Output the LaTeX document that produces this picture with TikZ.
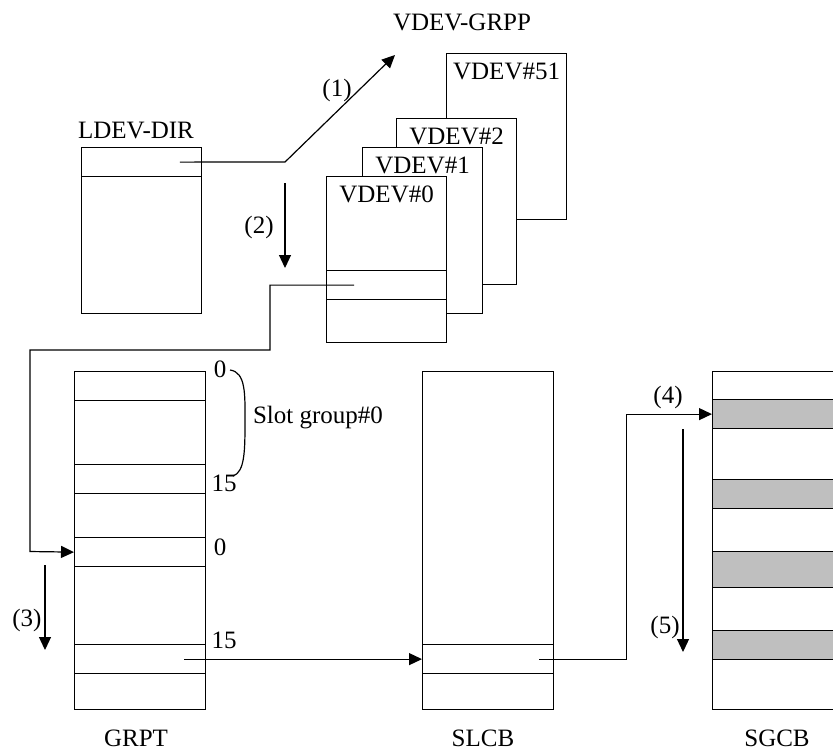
\documentclass[tikz,border=0pt]{standalone}
\usepackage{fontspec}
\setmainfont{Liberation Serif}
\usepackage{tikz}
\usetikzlibrary{arrows.meta, positioning, calc}

\begin{document}
\begin{tikzpicture}[
    x=0.5pt, y=-0.5pt,
    font=\fontsize{12.5}{15}\selectfont,
    line width=0.6pt,
    tbl/.style={rectangle, draw, fill=white, inner sep=0pt, anchor=north west, minimum width=65.5pt, minimum height=169pt},
    vdev/.style={tbl, minimum width=60pt, minimum height=83pt},
    slot/.style={rectangle, draw, inner sep=0pt, anchor=north west, minimum width=65.5pt, minimum height=14.5pt},
    busy/.style={slot, fill=gray!50},
    txt/.style={inner sep=0pt},
    ptr/.style={-{Triangle[length=6.5pt,width=6pt]}},
]
\clip (0,0) rectangle (833,752);

% LDEV-DIR
\node (ldevlbl) [txt] at (136,130) {LDEV-DIR};
\node (ldev) [vdev] at (80.7,147) {};
\node (ldevrow) [slot, minimum width=60pt] at (ldev.north west) {};
\coordinate (ldevptr) at ($(ldevrow.east)+(-22,0)$);

% VDEV-GRPP
\node (grpplbl) [txt] at (462,22) {VDEV-GRPP};
\node (vdev51) [vdev, label={[anchor=north, yshift=-1.5pt]north:VDEV\#51}] at (446,53) {};
\node (vdev2) [vdev, label={[anchor=north, yshift=-1.5pt]north:VDEV\#2}] at (396,118) {};
\node (vdev1) [vdev, label={[anchor=north, yshift=-1.5pt]north:VDEV\#1}] at (362,147) {};
\node (vdev0) [vdev, label={[anchor=north, yshift=-1.5pt]north:VDEV\#0}] at (326,176) {};
\node (vdevrow) [slot, minimum width=60pt] at (326,270) {};
\coordinate (vdevptr) at ($(vdevrow.west)+(28,0)$);

% GRPT
\node (grpt) [tbl] at (74,371) {};
\node (grptrow1) [slot] at (74,371) {};
\node (grptrow2) [slot] at (74,464) {};
\node (grptrow3) [slot] at (74,537) {};
\node (grptrow4) [slot] at (74,644) {};
\coordinate (grptptr) at ($(grptrow4.east)+(-22,0)$);
\node (idxa) [txt] at (220,369) {0};
\node (idxb) [txt] at (224,483) {15};
\node (idxc) [txt] at (220,547) {0};
\node (idxd) [txt] at (224,640) {15};
\node (grplbl) [txt] at (318,418) {Slot group\#0};
\node (grptlbl) [txt] at (136,738) {GRPT};

% SLCB
\node (slcb) [tbl] at (422,371) {};
\node (slcbrow) [slot] at (422,644) {};
\coordinate (slcbptr) at ($(slcbrow.east)+(-15,0)$);
\node (slcblbl) [txt] at (483,738) {SLCB};

% SGCB
\node (sgcb) [tbl] at (712,371) {};
\node (sgcbrow1) [busy] at (712,399) {};
\node (sgcbrow2) [busy] at (712,479) {};
\node (sgcbrow3) [busy, minimum height=18pt] at (712,551) {};
\node (sgcbrow4) [busy] at (712,630) {};
\node (sgcblbl) [txt] at (777,738) {SGCB};

% Step labels
\node (lbl1) [txt] at (337,90) {(1)};
\node (lbl2) [txt] at (259,227) {(2)};
\node (lbl3) [txt] at (27,620) {(3)};
\node (lbl4) [txt] at (668,397) {(4)};
\node (lbl5) [txt] at (665,627) {(5)};

% Arrows
\coordinate (grpptip) at (395,55);
\draw [ptr] (ldevptr) -- (285,162) -- (grpptip);
\coordinate (downAtop) at (285,183);
\coordinate (downAend) at (285,268);
\draw [ptr] (downAtop) -- (downAend);
\draw [ptr] (vdevptr) -| (270,350) -| (30,551.5) -- (grptrow3.west);
\coordinate (downBtop) at (45,565);
\coordinate (downBend) at (45,650);
\draw [ptr] (downBtop) -- (downBend);
\draw [ptr] (grptptr) -- (slcbrow.west);
\draw [ptr] (slcbptr) -- ++(87,0) |- (sgcbrow1.west);
\coordinate (downCtop) at (683,429);
\coordinate (downCend) at (683,652);
\draw [ptr] (downCtop) -- (downCend);

% Slot group brace
\draw (230,370) .. controls (246,372) and (245,395) .. (245,420) .. controls (245,450) and (245,472) .. (233,476);

\end{tikzpicture}
\end{document}
